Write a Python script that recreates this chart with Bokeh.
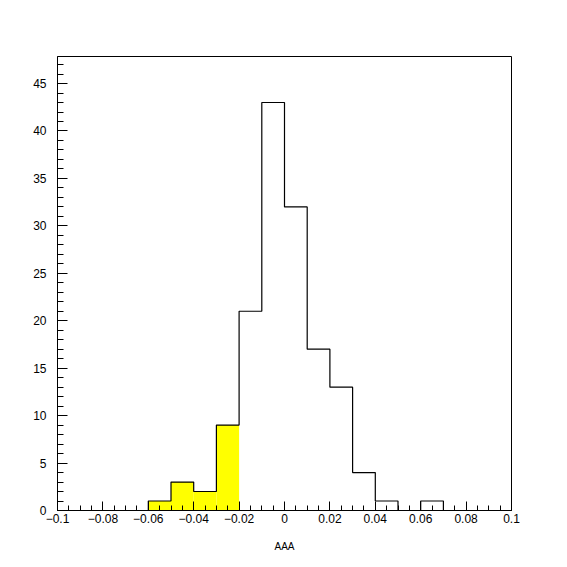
from bokeh.plotting import figure
from bokeh.models import FixedTicker, Range1d
from bokeh.embed import file_html
from bokeh.resources import INLINE

# Histogram data: bin left edges (width 0.01) and counts
bin_left = [-0.10, -0.09, -0.08, -0.07, -0.06, -0.05, -0.04, -0.03, -0.02, -0.01,
            0.00, 0.01, 0.02, 0.03, 0.04, 0.05, 0.06, 0.07, 0.08, 0.09]
bin_width = 0.01
counts = [0, 0, 0, 0, 1, 3, 2, 9, 21, 43, 32, 17, 13, 4, 1, 0, 1, 0, 0, 0]
fill_limit = -0.02  # bins left of this are filled yellow

x_ticks = [-0.1, -0.08, -0.06, -0.04, -0.02, 0, 0.02, 0.04, 0.06, 0.08, 0.1]
x_tick_labels = ["\u22120.1", "\u22120.08", "\u22120.06", "\u22120.04", "\u22120.02", "0",
                 "0.02", "0.04", "0.06", "0.08", "0.1"]
y_ticks = [0, 5, 10, 15, 20, 25, 30, 35, 40, 45]
x_title = "AAA"

p = figure(width=567, height=567, output_backend="svg", toolbar_location=None,
           x_range=Range1d(-0.1, 0.1), y_range=Range1d(0, 47.85),
           min_border_left=57, min_border_right=56, min_border_top=56, min_border_bottom=57)
p.background_fill_color = "white"
p.border_fill_color = "white"
p.grid.visible = False
p.outline_line_color = "black"
p.outline_line_width = 1
p.outline_line_alpha = 1

# Yellow filled bins
fl = [l for l, c in zip(bin_left, counts) if l + bin_width <= fill_limit + 1e-9]
fc = [c for l, c in zip(bin_left, counts) if l + bin_width <= fill_limit + 1e-9]
p.quad(left=fl, right=[l + bin_width for l in fl], bottom=0, top=fc,
       fill_color="#ffff00", line_color=None)

# Histogram outline
edges = bin_left + [bin_left[-1] + bin_width]
p.step(x=edges, y=counts + [counts[-1]], mode="after", line_color="black", line_width=1.2)

minor_x = [round(-0.1 + 0.005 * i, 4) for i in range(41)]
minor_y = list(range(0, 48))

xa = p.xaxis[0]
xa.ticker = FixedTicker(ticks=x_ticks, minor_ticks=minor_x)
xa.major_label_overrides = {t: s for t, s in zip(x_ticks, x_tick_labels)}
xa.major_tick_in = 9
xa.major_tick_out = 0
xa.minor_tick_in = 5
xa.minor_tick_out = 0
xa.major_label_standoff = 3
xa.axis_label = x_title
xa.axis_label_text_font = "Liberation Sans"
xa.axis_label_text_font_style = "normal"
xa.axis_label_text_font_size = "10px"
xa.axis_label_standoff = 15

ya = p.yaxis[0]
ya.ticker = FixedTicker(ticks=y_ticks, minor_ticks=minor_y)
ya.major_tick_in = 10
ya.major_tick_out = 0
ya.minor_tick_in = 6
ya.minor_tick_out = 0
ya.major_label_standoff = 11

for ax in (xa, ya):
    ax.axis_line_color = "black"
    ax.major_tick_line_color = "black"
    ax.minor_tick_line_color = "black"
    ax.major_label_text_font = "Liberation Sans"
    ax.major_label_text_font_size = "12px"
    ax.major_label_text_color = "black"
    ax.axis_label_text_color = "black"

open("out.html", "w").write(file_html(p, INLINE))
